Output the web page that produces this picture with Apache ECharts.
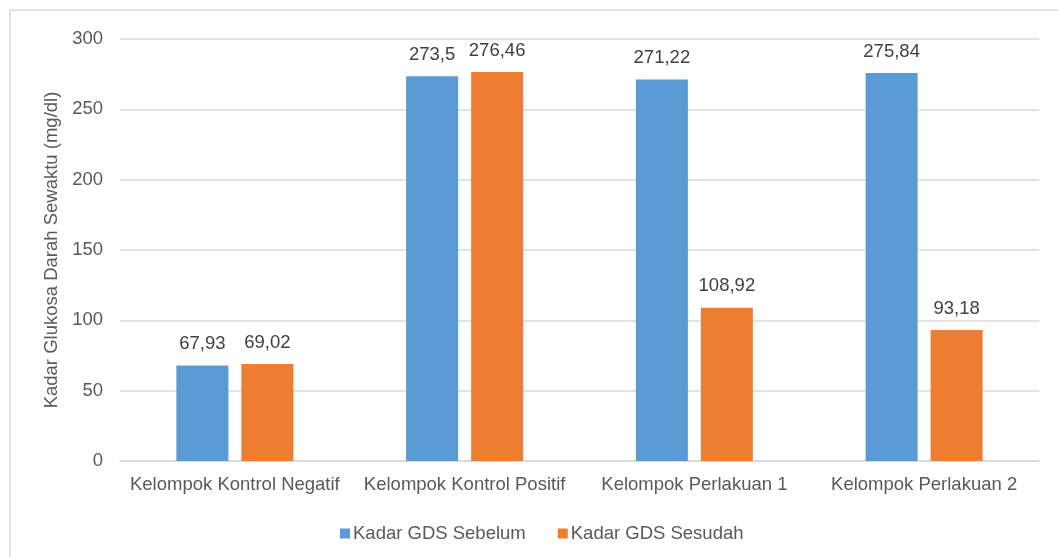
<!DOCTYPE html>
<html>
<head>
<meta charset="utf-8">
<script src="https://cdn.jsdelivr.net/npm/echarts@6/dist/echarts.min.js"></script>
<style>html,body{margin:0;padding:0;background:#fff}#c{width:1058px;height:557px}</style>
</head>
<body>
<div id="c"></div>
<script>
var categories = ['Kelompok Kontrol Negatif', 'Kelompok Kontrol Positif', 'Kelompok Perlakuan 1', 'Kelompok Perlakuan 2'];
var sebelum = [67.93, 273.5, 271.22, 275.84];
var sesudah = [69.02, 276.46, 108.92, 93.18];
var seriesNames = ['Kadar GDS Sebelum', 'Kadar GDS Sesudah'];
var yAxisName = 'Kadar Glukosa Darah Sewaktu (mg/dl)';

var FONT = 'Liberation Sans, Arial, sans-serif';
var FS = 18.5;
function fmt(p) { return String(p.value).replace('.', ','); }
var chart = echarts.init(document.getElementById('c'), null, {renderer: 'canvas'});
chart.setOption({
  animation: false,
  backgroundColor: '#fff',
  graphic: [{
    type: 'rect', silent: true,
    shape: {x: 10, y: 10, width: 1070, height: 570},
    style: {fill: 'none', stroke: '#d9d9d9', lineWidth: 1.5}
  }],
  grid: {left: 120, right: 19, top: 39, bottom: 96, containLabel: false},
  legend: {
    left: 335, top: 519,
    itemWidth: 10, itemHeight: 10, itemGap: 32,
    icon: 'rect',
    textStyle: {fontFamily: FONT, fontSize: FS, color: '#595959', padding: [0, 0, 0, -2]},
    data: seriesNames
  },
  xAxis: {
    type: 'category', data: categories,
    axisLine: {lineStyle: {color: '#d9d9d9', width: 1.5}},
    axisTick: {show: false},
    axisLabel: {fontFamily: FONT, fontSize: FS, color: '#595959', margin: 14, interval: 0}
  },
  yAxis: {
    type: 'value', min: 0, max: 300, interval: 50,
    name: yAxisName, nameLocation: 'middle', nameGap: 54, nameRotate: 90,
    nameTextStyle: {fontFamily: FONT, fontSize: FS, color: '#595959'},
    axisLine: {show: false}, axisTick: {show: false},
    axisLabel: {fontFamily: FONT, fontSize: FS, color: '#595959', margin: 17},
    splitLine: {lineStyle: {color: '#d9d9d9', width: 1.5}}
  },
  series: [{
    name: seriesNames[0], type: 'bar', data: sebelum,
    barWidth: 52, barGap: '25%',
    itemStyle: {color: '#5B9BD5'},
    label: {show: true, position: 'top', distance: 12, formatter: fmt,
      fontFamily: FONT, fontSize: FS, color: '#404040'}
  }, {
    name: seriesNames[1], type: 'bar', data: sesudah,
    barWidth: 52,
    itemStyle: {color: '#ED7D31'},
    label: {show: true, position: 'top', distance: 12, formatter: fmt,
      fontFamily: FONT, fontSize: FS, color: '#404040'}
  }]
});
</script>
</body>
</html>
